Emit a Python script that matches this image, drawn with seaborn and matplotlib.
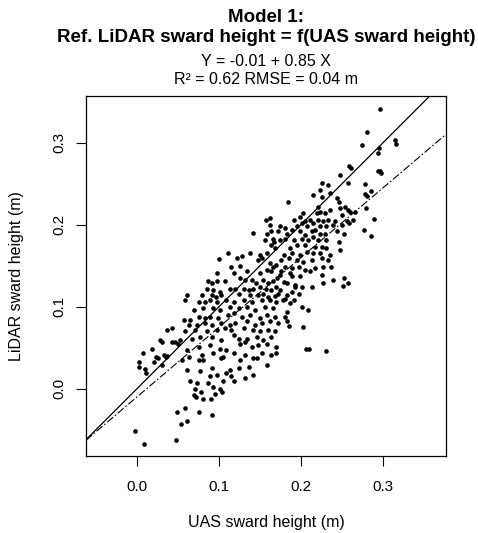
import matplotlib
matplotlib.use("Agg")
import matplotlib.pyplot as plt
import seaborn as sns
import pandas as pd

# UAS sward height (m) -- x values (rows are loose groups)
uas = [
    # outer / sparse points
    -0.002, 0.002, 0.002, 0.007, 0.008, 0.010, 0.011, 0.018, 0.021, 0.023, 0.025, 0.028, 0.030, 0.031, 0.033, 0.035, 0.036, 0.037,
    0.043, 0.043, 0.046, 0.048, 0.049, 0.050, 0.054, 0.059, 0.061, 0.070, 0.072, 0.076, 0.078, 0.080, 0.090, 0.092, 0.095, 0.104, 0.142,
    0.183, 0.185, 0.203, 0.206, 0.210, 0.231, 0.258, 0.261,
    0.274, 0.277, 0.278, 0.278, 0.279, 0.280, 0.281, 0.285, 0.285, 0.289, 0.294, 0.294, 0.295, 0.296, 0.296, 0.298, 0.314, 0.316,
    # lower-left part of the cloud
    0.164, 0.167, 0.111, 0.128, 0.122, 0.138, 0.150, 0.159, 0.168,
    0.100, 0.115, 0.125, 0.148, 0.153, 0.162, 0.170,
    0.098, 0.118, 0.134, 0.150, 0.159, 0.164, 0.166,
    0.087, 0.091, 0.097, 0.107, 0.126, 0.132, 0.140, 0.145, 0.154, 0.160, 0.166, 0.171,
    0.085, 0.093, 0.101, 0.113, 0.120, 0.130, 0.136, 0.142, 0.150, 0.157, 0.164, 0.170,
    0.061, 0.079, 0.091, 0.096, 0.103, 0.124, 0.138, 0.148, 0.154, 0.160, 0.168, 0.172,
    0.059, 0.075, 0.083, 0.089, 0.097, 0.109, 0.118, 0.130, 0.140, 0.152, 0.162, 0.170,
    0.069, 0.081, 0.093, 0.101, 0.113, 0.124, 0.134, 0.144, 0.156, 0.166,
    0.057, 0.065, 0.075, 0.083, 0.089, 0.099, 0.111, 0.118, 0.128, 0.138, 0.150, 0.158, 0.168,
    0.063, 0.073, 0.083, 0.091, 0.103, 0.113, 0.120, 0.134, 0.144, 0.152, 0.162, 0.172,
    0.059, 0.071, 0.085, 0.097, 0.107, 0.115, 0.130, 0.142, 0.150, 0.160, 0.168,
    0.052, 0.067, 0.077, 0.091, 0.103, 0.118, 0.124, 0.134, 0.146, 0.154, 0.164,
    0.061, 0.075, 0.089, 0.101, 0.109, 0.126, 0.132, 0.140, 0.148, 0.158, 0.170,
    0.055, 0.063, 0.079, 0.093, 0.103, 0.118, 0.132, 0.142, 0.152, 0.164,
    0.075, 0.081, 0.105, 0.126, 0.146, 0.170,
    0.061, 0.077, 0.091, 0.113, 0.124, 0.136, 0.158,
    0.089, 0.097, 0.109, 0.115, 0.132,
    0.065, 0.073, 0.087, 0.105, 0.118, 0.142,
    0.093, 0.101, 0.071,
    # upper-right part of the cloud
    0.248, 0.226, 0.233, 0.257, 0.223, 0.215, 0.225, 0.235, 0.244, 0.246, 0.184,
    0.221, 0.248, 0.254, 0.257, 0.203, 0.199, 0.219, 0.223, 0.229, 0.235, 0.250, 0.260, 0.266,
    0.157, 0.162, 0.191, 0.201, 0.205, 0.211, 0.215, 0.221, 0.227, 0.233, 0.242, 0.256, 0.258, 0.264,
    0.162, 0.174, 0.181, 0.195, 0.207, 0.223, 0.231, 0.239, 0.250,
    0.158, 0.164, 0.172, 0.183, 0.189, 0.199, 0.205, 0.213, 0.217, 0.223, 0.229, 0.244, 0.252,
    0.156, 0.166, 0.174, 0.181, 0.191, 0.201, 0.209, 0.215, 0.221, 0.231, 0.246,
    0.187, 0.195, 0.205, 0.217, 0.225, 0.231, 0.248,
    0.179, 0.189, 0.199, 0.207, 0.215, 0.223, 0.235,
    0.176, 0.185, 0.195, 0.203, 0.213, 0.225, 0.233,
    0.181, 0.189, 0.197, 0.205, 0.217, 0.227, 0.237,
    0.174, 0.187, 0.199, 0.211, 0.225, 0.239, 0.252, 0.257, 0.251, 0.227,
    0.183, 0.193, 0.201, 0.213,
    0.174, 0.189, 0.197, 0.181, 0.191,
    0.187, 0.201, 0.183, 0.209, 0.181,
    0.178, 0.183, 0.179, 0.193, 0.189, 0.176,
]

# Reference LiDAR sward height (m) -- y values, same order
lidar = [
    # outer / sparse points
    -0.052, 0.033, 0.026, 0.043, -0.067, 0.024, 0.019, 0.049, 0.032, 0.039, 0.037, 0.059, 0.057, 0.029, 0.041, 0.039, 0.040, 0.072,
    0.074, 0.057, 0.057, -0.063, -0.029, 0.055, -0.043, -0.024, -0.039, -0.008, -0.010, -0.029, -0.004, -0.012, -0.012, -0.032, -0.006, -0.004, 0.190,
    0.082, 0.076, 0.075, 0.049, 0.049, 0.046, 0.272, 0.269,
    0.297, 0.193, 0.238, 0.250, 0.221, 0.235, 0.313, 0.186, 0.241, 0.207, 0.288, 0.265, 0.293, 0.341, 0.265, 0.263, 0.303, 0.299,
    # lower-left part of the cloud
    0.175, 0.179, 0.165, 0.162, 0.160, 0.166, 0.163, 0.165, 0.171,
    0.158, 0.149, 0.150, 0.157, 0.159, 0.153, 0.151,
    0.141, 0.141, 0.143, 0.141, 0.145, 0.143, 0.149,
    0.131, 0.129, 0.131, 0.131, 0.135, 0.133, 0.133, 0.129, 0.133, 0.129, 0.131, 0.135,
    0.121, 0.120, 0.118, 0.121, 0.122, 0.122, 0.120, 0.122, 0.124, 0.122, 0.120, 0.124,
    0.114, 0.114, 0.114, 0.112, 0.114, 0.116, 0.114, 0.114, 0.116, 0.112, 0.113, 0.116,
    0.108, 0.106, 0.106, 0.108, 0.106, 0.108, 0.106, 0.108, 0.106, 0.108, 0.108, 0.106,
    0.096, 0.098, 0.098, 0.096, 0.100, 0.098, 0.100, 0.096, 0.100, 0.098,
    0.084, 0.084, 0.088, 0.086, 0.088, 0.086, 0.090, 0.092, 0.088, 0.090, 0.086, 0.090, 0.088,
    0.078, 0.078, 0.080, 0.078, 0.080, 0.078, 0.080, 0.082, 0.078, 0.080, 0.082, 0.080,
    0.070, 0.072, 0.070, 0.072, 0.074, 0.072, 0.074, 0.072, 0.070, 0.072, 0.070,
    0.059, 0.061, 0.063, 0.063, 0.059, 0.065, 0.061, 0.061, 0.063, 0.059, 0.063,
    0.047, 0.051, 0.053, 0.049, 0.047, 0.055, 0.057, 0.051, 0.053, 0.055, 0.051,
    0.035, 0.039, 0.041, 0.043, 0.037, 0.043, 0.041, 0.037, 0.043, 0.041,
    0.035, 0.035, 0.039, 0.035, 0.037, 0.043,
    0.023, 0.021, 0.025, 0.023, 0.025, 0.027, 0.029,
    0.015, 0.017, 0.019, 0.015, 0.013,
    0.009, 0.007, 0.007, 0.009, 0.009, 0.017,
    0.002, 0.000, 0.000,
    # upper-right part of the cloud
    0.261, 0.251, 0.248, 0.251, 0.242, 0.236, 0.234, 0.239, 0.232, 0.228, 0.228,
    0.222, 0.221, 0.222, 0.218, 0.214, 0.210, 0.214, 0.216, 0.214, 0.218, 0.212, 0.216, 0.215,
    0.206, 0.208, 0.206, 0.202, 0.204, 0.206, 0.202, 0.206, 0.204, 0.206, 0.204, 0.204, 0.202, 0.206,
    0.200, 0.198, 0.196, 0.198, 0.198, 0.198, 0.198, 0.200, 0.200,
    0.189, 0.192, 0.192, 0.189, 0.194, 0.192, 0.187, 0.192, 0.194, 0.189, 0.189, 0.192, 0.189,
    0.181, 0.183, 0.181, 0.183, 0.181, 0.183, 0.181, 0.185, 0.181, 0.181, 0.179,
    0.171, 0.175, 0.175, 0.173, 0.173, 0.171, 0.169,
    0.163, 0.165, 0.163, 0.167, 0.165, 0.165, 0.163,
    0.157, 0.159, 0.157, 0.155, 0.157, 0.159, 0.157,
    0.149, 0.147, 0.149, 0.145, 0.147, 0.149, 0.149,
    0.139, 0.141, 0.137, 0.143, 0.139, 0.133, 0.135, 0.129, 0.125, 0.129,
    0.129, 0.126, 0.124, 0.124,
    0.120, 0.118, 0.116, 0.110, 0.108,
    0.104, 0.100, 0.094, 0.096, 0.088,
    0.108, 0.114, 0.130, 0.124, 0.137, 0.143,
]

reg_intercept = -0.01
reg_slope = 0.85
x_ticks = [0.0, 0.1, 0.2, 0.3]
y_ticks = [0.0, 0.1, 0.2, 0.3]
title_lines = ["Model 1:", "Ref. LiDAR sward height = f(UAS sward height)"]
subtitle_lines = ["Y = -0.01 + 0.85 X", "R\u00b2 = 0.62 RMSE = 0.04 m"]
x_label = "UAS sward height (m)"
y_label = "LiDAR sward height (m)"

sns.set_style("ticks")
plt.rcParams["font.family"] = ["Liberation Sans", "DejaVu Sans"]
plt.rcParams["text.color"] = "black"
plt.rcParams["xtick.color"] = "black"
plt.rcParams["ytick.color"] = "black"
plt.rcParams["axes.labelcolor"] = "black"

W, H = 478, 533
fig = plt.figure(figsize=(W / 100, H / 100), dpi=100)
ax = fig.add_axes([86 / W, (H - 456) / H, 360 / W, 360 / H])

df = pd.DataFrame({"uas": uas, "lidar": lidar})
sns.scatterplot(data=df, x="uas", y="lidar", ax=ax, s=11, color="black",
                linewidth=0, legend=False, zorder=3)
ax.axline((0, 0), slope=1, color="black", lw=0.9, zorder=2)
ax.axline((0, reg_intercept), slope=reg_slope, color="black", lw=0.8,
          linestyle=(0, (7, 2, 1.5, 2)), zorder=2)

ax.set_xlim(-0.0622, 0.3768)
ax.set_ylim(-0.0821, 0.357)
ax.set_xticks(x_ticks)
ax.set_yticks(y_ticks)
ax.set_xticklabels([f"{v:.1f}" for v in x_ticks])
ax.set_yticklabels([f"{v:.1f}" for v in y_ticks], rotation=90, va="center")
ax.tick_params(axis="x", length=7, width=0.8, pad=10, labelsize=11, colors="black")
ax.tick_params(axis="y", length=7, width=0.8, pad=7, labelsize=11, colors="black")
for sp in ax.spines.values():
    sp.set_visible(True)
    sp.set_color("black")
    sp.set_linewidth(0.9)
ax.set_xlabel("")
ax.set_ylabel("")

cx = 266 / W
fig.text(cx, 1 - 17 / H, title_lines[0], ha="center", va="center", fontsize=13.5, fontweight="bold")
fig.text(cx, 1 - 38 / H, title_lines[1], ha="center", va="center", fontsize=13.5, fontweight="bold")
fig.text(cx, 1 - 62 / H, subtitle_lines[0], ha="center", va="center", fontsize=11.5)
fig.text(cx, 1 - 80 / H, subtitle_lines[1], ha="center", va="center", fontsize=11.5)
fig.text(cx, 1 - 523 / H, x_label, ha="center", va="center", fontsize=11.5)
fig.text(17 / W, 1 - 276 / H, y_label, ha="center", va="center", fontsize=11.5, rotation=90)

fig.savefig("out.png", dpi=100)
